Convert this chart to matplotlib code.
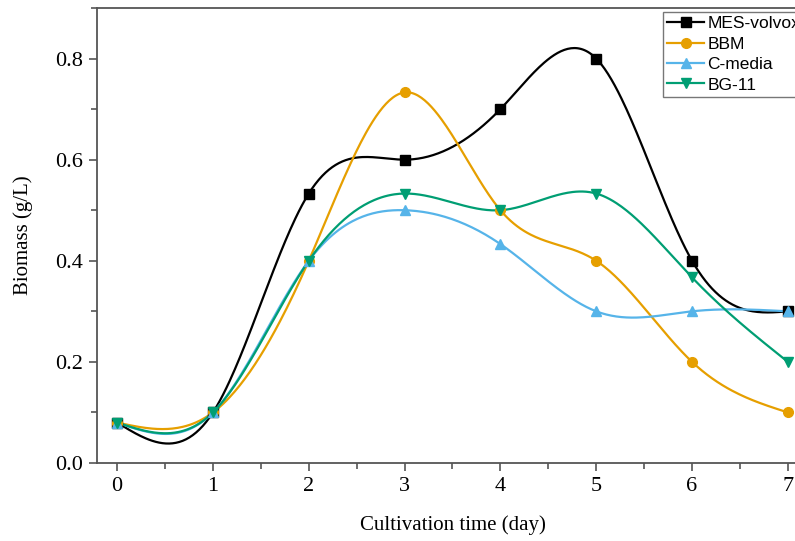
import numpy as np
import matplotlib
matplotlib.use("Agg")
import matplotlib.pyplot as plt
from matplotlib.ticker import MultipleLocator

days = [0, 1, 2, 3, 4, 5, 6, 7]
mes_volvox = [0.08, 0.10, 0.533, 0.60, 0.70, 0.80, 0.40, 0.30]
bbm = [0.08, 0.10, 0.40, 0.733, 0.50, 0.40, 0.20, 0.10]
c_media = [0.08, 0.10, 0.40, 0.50, 0.433, 0.30, 0.30, 0.30]
bg11 = [0.08, 0.10, 0.40, 0.533, 0.50, 0.533, 0.367, 0.20]

series = [
    ("MES-volvox", mes_volvox, "black", "s"),
    ("BBM", bbm, "#E69F00", "o"),
    ("C-media", c_media, "#56B4E9", "^"),
    ("BG-11", bg11, "#009E73", "v"),
]


def natural_spline(x, y, n=400):
    x = np.asarray(x, float)
    y = np.asarray(y, float)
    m = len(x)
    h = np.diff(x)
    A = np.zeros((m, m))
    b = np.zeros(m)
    A[0, 0] = 1
    A[-1, -1] = 1
    for i in range(1, m - 1):
        A[i, i - 1] = h[i - 1]
        A[i, i] = 2 * (h[i - 1] + h[i])
        A[i, i + 1] = h[i]
        b[i] = 3 * ((y[i + 1] - y[i]) / h[i] - (y[i] - y[i - 1]) / h[i - 1])
    c = np.linalg.solve(A, b)
    xs = np.linspace(x[0], x[-1], n)
    ys = np.empty_like(xs)
    for k, xv in enumerate(xs):
        i = min(np.searchsorted(x, xv, side="right") - 1, m - 2)
        dx = xv - x[i]
        bi = (y[i + 1] - y[i]) / h[i] - h[i] * (2 * c[i] + c[i + 1]) / 3
        di = (c[i + 1] - c[i]) / (3 * h[i])
        ys[k] = y[i] + bi * dx + c[i] * dx ** 2 + di * dx ** 3
    return xs, ys


fig = plt.figure(figsize=(7.95, 5.41), dpi=100)
ax = fig.add_axes([97 / 795, 1 - 463 / 541, (808 - 97) / 795, (463 - 8) / 541])

for name, vals, color, mk in series:
    xs, ys = natural_spline(days, vals)
    ax.plot(xs, ys, color=color, lw=1.6, zorder=2)
    ax.plot(days, vals, linestyle="none", marker=mk, color=color, ms=7, zorder=3)
    ax.plot([], [], color=color, lw=1.6, marker=mk, ms=7, label=name)

ax.set_xlim(-0.21, 7.21)
ax.set_ylim(0, 0.9)
ax.xaxis.set_major_locator(MultipleLocator(1))
ax.xaxis.set_minor_locator(MultipleLocator(0.5))
ax.yaxis.set_major_locator(MultipleLocator(0.2))
ax.yaxis.set_minor_locator(MultipleLocator(0.1))
ax.set_yticks([0.0, 0.2, 0.4, 0.6, 0.8])
ax.set_yticklabels(["0.0", "0.2", "0.4", "0.6", "0.8"])

serif = ["Liberation Serif", "DejaVu Serif"]
for lab in ax.get_xticklabels() + ax.get_yticklabels():
    lab.set_fontfamily(serif)
    lab.set_fontsize(16)
ax.tick_params(which="major", direction="out", length=6, width=1.2, color="#555555", pad=4)
ax.tick_params(which="minor", direction="out", length=4, width=1.2, color="#555555")
for sp in ax.spines.values():
    sp.set_color("#555555")
    sp.set_linewidth(1.3)

ax.set_xlabel("Cultivation time (day)", family=serif, fontsize=15, labelpad=14)
ax.set_ylabel("Biomass (g/L)", family=serif, fontsize=15, labelpad=16)

leg = fig.legend(loc="upper left", bbox_to_anchor=(663 / 795, 1 - 12 / 541),
                 prop={"family": ["Liberation Sans", "DejaVu Sans"], "size": 12.5},
                 frameon=True, fancybox=False, edgecolor="#555555",
                 handlelength=2.1, handletextpad=0.2, labelspacing=0.3,
                 borderpad=0.25, borderaxespad=0)
leg.get_frame().set_linewidth(1.0)

fig.savefig("out.png", dpi=100)
